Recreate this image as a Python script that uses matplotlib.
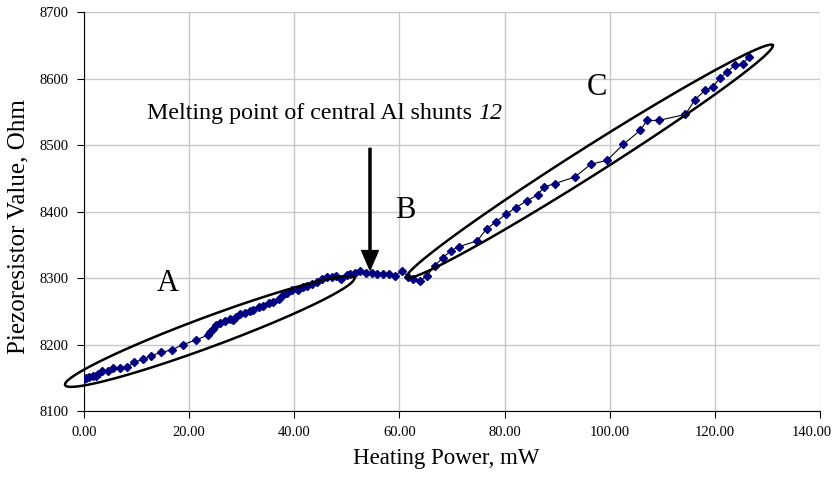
import numpy as np
import matplotlib
matplotlib.use("Agg")
import matplotlib.pyplot as plt
from matplotlib.transforms import ScaledTranslation

plt.rcParams["font.family"] = ["Liberation Serif", "DejaVu Serif"]

# heating power (mW) and piezoresistor value (Ohm)
power = [0.0, 0.4, 1.0, 1.8, 2.2, 2.7, 3.5, 4.5, 5.6, 6.9, 8.2, 9.5, 11.2, 12.7,
         14.7, 16.7, 18.9, 21.3, 23.6, 24.0, 24.6, 25.2, 25.9, 26.8, 27.8, 28.4,
         29.0, 29.7, 30.6, 31.6, 32.2, 33.2, 34.1, 35.1, 36.0, 37.0, 37.9, 38.7,
         39.5, 40.8, 41.7, 42.4, 43.3, 44.3, 45.2, 46.2, 47.2, 47.9, 48.8, 50.0,
         50.6, 51.5, 52.5, 53.6, 54.7, 55.8, 56.9, 58.1, 59.2, 60.4, 61.7, 62.5,
         64.0, 65.2, 66.7, 68.2, 69.8, 71.3, 74.8, 76.6, 78.3, 80.3, 82.2, 84.2,
         86.3, 87.5, 89.6, 93.4, 96.4, 99.5, 102.6, 105.8, 107.1, 109.3, 114.4,
         116.2, 118.1, 119.6, 121.0, 122.4, 123.8, 125.3, 126.4]
resist = [8148, 8150, 8151, 8152, 8153, 8156, 8160, 8160, 8164, 8164, 8166, 8173,
          8178, 8183, 8188, 8192, 8200, 8207, 8214, 8219, 8224, 8229, 8233, 8235,
          8238, 8237, 8242, 8246, 8248, 8250, 8252, 8257, 8258, 8262, 8264, 8269,
          8274, 8277, 8282, 8282, 8286, 8288, 8291, 8294, 8299, 8301, 8302, 8303,
          8298, 8304, 8306, 8307, 8310, 8308, 8307, 8306, 8306, 8306, 8303, 8311,
          8302, 8298, 8296, 8303, 8318, 8330, 8341, 8347, 8356, 8374, 8384, 8396,
          8406, 8416, 8425, 8437, 8442, 8452, 8471, 8477, 8501, 8522, 8537, 8537,
          8546, 8568, 8582, 8587, 8601, 8610, 8620, 8622, 8632]

xticks = np.arange(0, 141, 20)
yticks = np.arange(8100, 8701, 100)

fig = plt.figure(figsize=(8.32, 4.86), dpi=100)
ax = fig.add_axes([84 / 832, 1 - 411 / 486, 736 / 832, 399 / 486])

ax.plot(power, resist, color="black", lw=0.8, marker="D", markersize=3.8,
        markerfacecolor="#000080", markeredgecolor="#000080", zorder=3)

ax.set_xlim(0, 140)
ax.set_ylim(8100, 8700)
ax.set_xticks(xticks)
ax.set_yticks(yticks)
ax.set_xticklabels([f"{v:.2f}" for v in xticks])
ax.grid(True, color="#c8c8c8", lw=1)
ax.set_axisbelow(True)
for s in ["top", "right"]:
    ax.spines[s].set_visible(False)
ax.tick_params(direction="out", length=5, labelsize=10.5, pad=6)
# keep the last x label inside the figure
last = ax.get_xticklabels()[-1]
last.set_transform(last.get_transform() + ScaledTranslation(-8 / 100, 0, fig.dpi_scale_trans))

ax.set_xlabel("Heating Power, mW", fontsize=16.5)
ax.set_ylabel("Piezoresistor Value, Ohm", fontsize=18)
ax.xaxis.set_label_coords(0.492, -0.118)
ax.xaxis.label.set_va("center")
ax.yaxis.set_label_coords(-0.0897, 0.461)
ax.yaxis.label.set_va("center")


def draw_ellipse(p1, p2, half_width_px):
    # ellipse between two tips given in data coords, width in pixels
    a = ax.transData.transform(p1)
    b = ax.transData.transform(p2)
    c = (a + b) / 2
    d = b - a
    L = np.hypot(*d) / 2
    ang = np.arctan2(d[1], d[0])
    t = np.linspace(0, 2 * np.pi, 300)
    ex = L * np.cos(t)
    ey = half_width_px * np.sin(t)
    px = c[0] + ex * np.cos(ang) - ey * np.sin(ang)
    py = c[1] + ex * np.sin(ang) + ey * np.cos(ang)
    pts = ax.transData.inverted().transform(np.column_stack([px, py]))
    ax.plot(pts[:, 0], pts[:, 1], color="black", lw=1.8, clip_on=False, zorder=4)


draw_ellipse((-3.6, 8139), (51.4, 8300), 15)
draw_ellipse((61.4, 8301), (131.0, 8650), 14)

ax.text(16.0, 8292, "A", fontsize=22, ha="center", va="center")
ax.text(61.1, 8402, "B", fontsize=22, ha="center", va="center")
ax.text(97.6, 8586, "C", fontsize=22, ha="center", va="center")

t = ax.text(12.0, 8548, "Melting point of central Al shunts ", fontsize=17.3,
            ha="left", va="center")
fig.canvas.draw()
bb = t.get_window_extent()
x_end = ax.transData.inverted().transform((bb.x1, bb.y0))[0]
ax.text(x_end, 8548, "12", fontsize=17.3, style="italic", ha="left", va="center")

ax.annotate("", xy=(54.4, 8312), xytext=(54.4, 8495),
            arrowprops=dict(facecolor="black", edgecolor="black", width=1.5,
                            headwidth=12, headlength=14))

fig.savefig("out.png", dpi=100)
